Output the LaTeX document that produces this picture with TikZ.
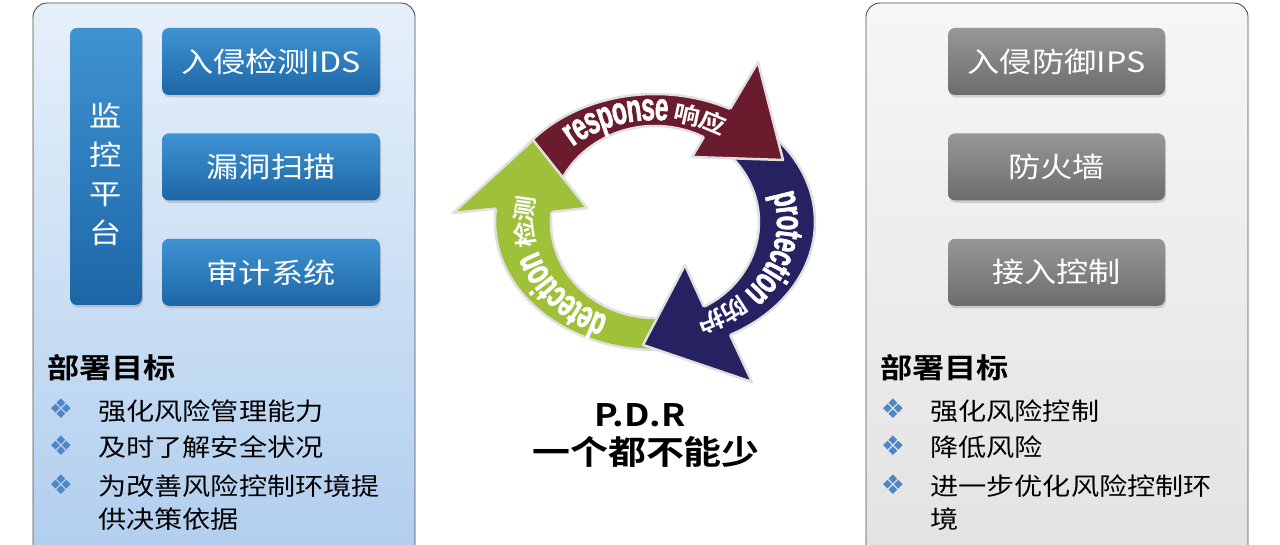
\documentclass[tikz,border=0pt]{standalone}
\usepackage{fontspec}
\setmainfont{Noto Sans CJK SC}[FakeStretch=1.15,BoldFont={Noto Sans CJK SC Bold}]
\newfontfamily\arcfont{Liberation Sans}[FakeStretch=0.62,FakeBold=1.5]
\newfontfamily\symfont{DejaVu Sans}
\usepackage{tikz}
\usetikzlibrary{positioning,calc,decorations.text,shadows}

\definecolor{paneltop}{HTML}{E6F0FA}
\definecolor{panelbot}{HTML}{AFCDEE}
\definecolor{greytop}{HTML}{F6F6F6}
\definecolor{greybot}{HTML}{E2E2E2}
\definecolor{bluetop}{HTML}{3F93D3}
\definecolor{bluebot}{HTML}{1D66A6}
\definecolor{darktop}{HTML}{979797}
\definecolor{darkbot}{HTML}{6C6C6C}
\definecolor{respred}{HTML}{6A1B2E}
\definecolor{protblue}{HTML}{262262}
\definecolor{detgreen}{HTML}{9FC13A}
\definecolor{bulletblue}{HTML}{4F86C6}

\newcommand{\arcword}{\arcfont\bfseries\fontsize{39}{39}\selectfont}
\newcommand{\arccjk}{\bfseries\fontsize{23}{23}\selectfont}

\begin{document}
\begin{tikzpicture}[
  x=1pt, y=1pt,
  panel/.style={draw=black!70, line width=0.9pt, rounded corners=14pt},
  tool/.style={rounded corners=7pt, text=white, inner sep=0pt, minimum height=67pt,
    font=\fontsize{28}{28}\selectfont,
    drop shadow={shadow xshift=1pt, shadow yshift=-2.5pt, opacity=0.3}},
  bluebox/.style={tool, top color=bluetop, bottom color=bluebot, minimum width=218pt},
  greybox/.style={tool, top color=darktop, bottom color=darkbot, minimum width=217pt},
  goal/.style={anchor=west, inner sep=0pt, font=\bfseries\fontsize{28}{28}\selectfont},
  item/.style={anchor=base west, inner sep=0pt, align=left, font=\fontsize{24.5}{33}\selectfont},
  bullet/.style={inner sep=0pt, text=bulletblue, font=\symfont\fontsize{27}{27}\selectfont},
  rim/.style={draw=black!12, line width=2.5pt, line join=round},
  ringtext/.style={decorate, decoration={text along path, text color=white,
    text align=center, raise=-10pt, text={#1}}}
]
\useasboundingbox (0,0) rectangle (1280,545);

% left panel: monitoring
\draw[panel, top color=paneltop, bottom color=panelbot] (33,-30) rectangle (415,542);
\node[bluebox, minimum width=72pt, minimum height=277pt, align=center,
  font=\fontsize{28}{39}\selectfont] (mon) at (106,378.5) {\rule{0pt}{39pt}监\\控\\平\\台};
\node[bluebox] (ids) at (271,483.5) {入侵检测IDS};
\node[bluebox, below=38pt of ids] (scan) {漏洞扫描};
\node[bluebox, below=38pt of scan] (audit) {审计系统};
\node[goal] (goalL) at (47,177) {部署目标};
\node[bullet] (bl1) at (61,136) {❖};
\node[bullet] (bl2) at (61,99) {❖};
\node[bullet] (bl3) at (61,60) {❖};
\node[item] (l1) at (98,124) {强化风险管理能力};
\node[item] (l2) at (98,88) {及时了解安全状况};
\node[item] (l3) at (98,16) {为改善风险控制环境提\\供决策依据};

% right panel: protection
\draw[panel, top color=greytop, bottom color=greybot] (866,-30) rectangle (1248,542);
\node[greybox] (ips) at (1056.5,483.5) {入侵防御IPS};
\node[greybox, below=38pt of ips] (fw) {防火墙};
\node[greybox, below=38pt of fw] (nac) {接入控制};
\node[goal] (goalR) at (880,177) {部署目标};
\node[bullet] (br1) at (893,136) {❖};
\node[bullet] (br2) at (893,99) {❖};
\node[bullet] (br3) at (893,60) {❖};
\node[item] (r1) at (930,124) {强化风险控制};
\node[item] (r2) at (930,88) {降低风险};
\node[item] (r3) at (930,16) {进一步优化风险控制环\\境};

% P-D-R ring
\coordinate (C) at (655,323);
\path[fill=respred, rim] ($(C)+(165:160 and 128)$) arc[start angle=165, end angle=59, x radius=160, y radius=128]
  -- ($(C)+(59:104 and 96)$) arc[start angle=59, end angle=165, x radius=104, y radius=96] -- cycle;
\path[fill=protblue, rim] ($(C)+(47:160 and 128)$) arc[start angle=47, end angle=-65, x radius=160, y radius=128]
  -- ($(C)+(-65:104 and 96)$) arc[start angle=-65, end angle=47, x radius=104, y radius=96] -- cycle;
\path[fill=detgreen, rim] ($(C)+(282:160 and 128)$) arc[start angle=282, end angle=171, x radius=160, y radius=128]
  -- ($(C)+(171:104 and 96)$) arc[start angle=171, end angle=282, x radius=104, y radius=96] -- cycle;

\coordinate (rtip) at (783,385);
\coordinate (btip) at (643,200);
\coordinate (gtip) at (533,405);
\fill[respred] ($(C)+(62:160 and 128)$) -- (758,483) -- (rtip) -- (692,388) -- ($(C)+(62:104 and 96)$) -- cycle;
\draw[rim] ($(C)+(62:160 and 128)$) -- (758,483) -- (rtip) -- (692,388) -- ($(C)+(62:104 and 96)$);
\fill[protblue] ($(C)+(-62:160 and 128)$) -- (752,163) -- (btip) -- (685,280) -- ($(C)+(-62:104 and 96)$) -- cycle;
\draw[rim] ($(C)+(-62:160 and 128)$) -- (752,163) -- (btip) -- (685,280) -- ($(C)+(-62:104 and 96)$);
\fill[detgreen] ($(C)+(174:160 and 128)$) -- (453,332) -- (gtip) -- (587,337) -- ($(C)+(174:104 and 96)$) -- cycle;
\draw[rim] ($(C)+(174:160 and 128)$) -- (453,332) -- (gtip) -- (587,337) -- ($(C)+(174:104 and 96)$);

\path[ringtext={|\arcword|response |\arccjk|响应}]
  ($(C)+(140:132 and 112)$) arc[start angle=140, end angle=50, x radius=132, y radius=112];
\path[ringtext={|\arcword|protection |\arccjk|防护}]
  ($(C)+(23:132 and 112)$) arc[start angle=23, end angle=-77, x radius=132, y radius=112];
\path[ringtext={|\arcword|detection |\arccjk|检测}]
  ($(C)+(255:132 and 112)$) arc[start angle=255, end angle=158, x radius=132, y radius=112];

\node[font=\bfseries\fontsize{31}{31}\selectfont] (pdr) at (640,130) {P.D.R};
\node[font=\bfseries\fontsize{33}{33}\selectfont] (slogan) at (646,93.5) {一个都不能少};
\end{tikzpicture}
\end{document}
